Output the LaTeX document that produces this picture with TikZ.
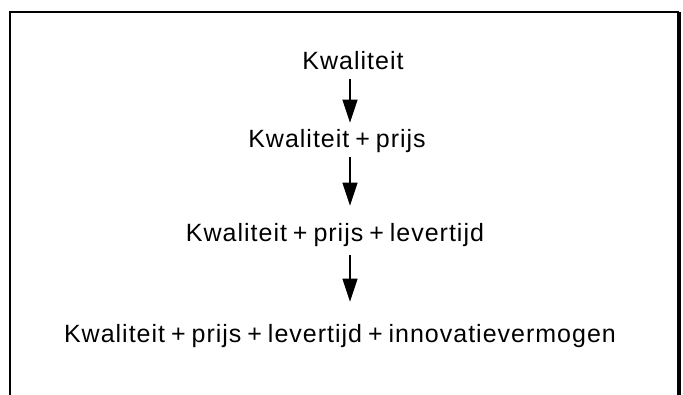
\documentclass[tikz,border=0pt]{standalone}
\usepackage{fontspec}
\setmainfont{Liberation Sans}[LetterSpace=4, WordSpace=0.75]
\usetikzlibrary{arrows.meta}

\begin{document}
\begin{tikzpicture}[x=1pt, y=-1pt,
    stage/.style={anchor=base, inner sep=0pt, font=\fontsize{25}{30}\selectfont},
    arrow/.style={-{Triangle[length=23pt, width=15pt]}, line width=1.2pt},
    frame/.style={line width=2.2pt}
]
\useasboundingbox (0,0) rectangle (683,395);

% open frame, no bottom edge
\draw[frame] (10,395) -- (10,12) -- (679,12);
\draw[frame, line width=3.5pt] (679,12) -- (679,395);

\node[stage] (k1) at (353,70) {Kwaliteit};
\node[stage] (k2) at (337,148) {Kwaliteit + prijs};
\node[stage] (k3) at (335,242) {Kwaliteit + prijs + levertijd};
\node[stage] (k4) at (340,343) {Kwaliteit + prijs + levertijd + innovatievermogen};

\draw[arrow, shorten <=9pt, shorten >=7pt] (k1.base -| 350,0) -- (k2.north -| 350,0);
\draw[arrow, shorten <=9pt, shorten >=18pt] (k2.base -| 350,0) -- (k3.north -| 350,0);
\draw[arrow, shorten <=13pt, shorten >=23pt] (k3.base -| 350,0) -- (k4.north -| 350,0);

\end{tikzpicture}
\end{document}
